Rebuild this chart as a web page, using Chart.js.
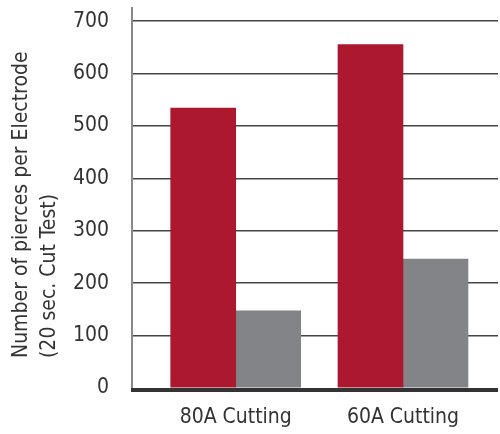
<!DOCTYPE html>
<html lang="en">

<head>
    <meta charset="utf-8">
    <title>Pierces per Electrode</title>
    <script src="https://cdn.jsdelivr.net/npm/chart.js"></script>
    <style>
        body { margin: 0; background: #fff; }
    </style>
</head>

<body>
    <canvas id="myChart" width="500" height="434"></canvas>

    <script>
        const categories = ['80A Cutting', '60A Cutting'];
        const redValues = [534, 655];
        const grayValues = [147, 246];
        const yTicks = [0, 100, 200, 300, 400, 500, 600, 700];
        const yTitle = ['Number of pierces per Electrode', '(20 sec. Cut Test)'];

        const FONT = "'DejaVu Sans Condensed', sans-serif";

        // draws the dark base line and the two-line axis title
        const extras = {
            id: 'extras',
            afterDatasetsDraw(chart) {
                const ctx = chart.ctx;
                const area = chart.chartArea;
                ctx.save();
                ctx.fillStyle = '#333';
                ctx.fillRect(area.left - 1, area.bottom, area.right - area.left + 1, 4);
                ctx.restore();
            },
            afterDraw(chart) {
                const ctx = chart.ctx;
                ctx.save();
                ctx.translate(0, 358);
                ctx.rotate(-Math.PI / 2);
                ctx.fillStyle = '#333';
                ctx.font = '21px ' + FONT;
                ctx.textAlign = 'left';
                ctx.textBaseline = 'middle';
                ctx.fillText(yTitle[0], 0, 22);
                ctx.fillText(yTitle[1], 0, 50);
                ctx.restore();
            }
        };

        const data = {
            labels: categories.map((c, i) => i),
            datasets: [{
                data: redValues,
                backgroundColor: '#ac182d',
                borderWidth: 0,
                barThickness: 65
            }, {
                data: grayValues,
                backgroundColor: '#838488',
                borderWidth: 0,
                barThickness: 65
            }]
        };

        const config = {
            type: 'bar',
            data: data,
            plugins: [extras],
            options: {
                responsive: false,
                animation: false,
                layout: { padding: { top: 8, right: 2, left: 0, bottom: 0 } },
                plugins: {
                    legend: { display: false },
                    tooltip: { enabled: false }
                },
                scales: {
                    x: {
                        type: 'linear',
                        offset: false,
                        min: -0.62,
                        max: 1.568,
                        afterBuildTicks: s => { s.ticks = categories.map((c, i) => ({ value: i })); },
                        afterFit: s => { s.height = 46; s.paddingLeft = 0; s.paddingRight = 0; },
                        grid: { display: false },
                        border: { display: false },
                        ticks: {
                            color: '#333',
                            font: { family: FONT, size: 21 },
                            padding: 9,
                            maxRotation: 0,
                            autoSkip: false,
                            callback: v => categories[v]
                        }
                    },
                    y: {
                        min: 0,
                        max: 725,
                        afterBuildTicks: s => { s.ticks = yTicks.map(v => ({ value: v })); },
                        afterFit: s => { s.width = 132; s.paddingTop = 0; s.paddingBottom = 0; },
                        grid: {
                            color: c => c.tick && c.tick.value === 0 ? 'rgba(0,0,0,0)' : '#444',
                            lineWidth: 1.5,
                            drawTicks: false
                        },
                        border: { color: '#888', width: 2 },
                        ticks: {
                            color: '#333',
                            font: { family: FONT, size: 21 },
                            padding: 23
                        }
                    }
                }
            }
        };

        const myBarChart = new Chart(document.getElementById('myChart'), config);
    </script>

</body>

</html>
